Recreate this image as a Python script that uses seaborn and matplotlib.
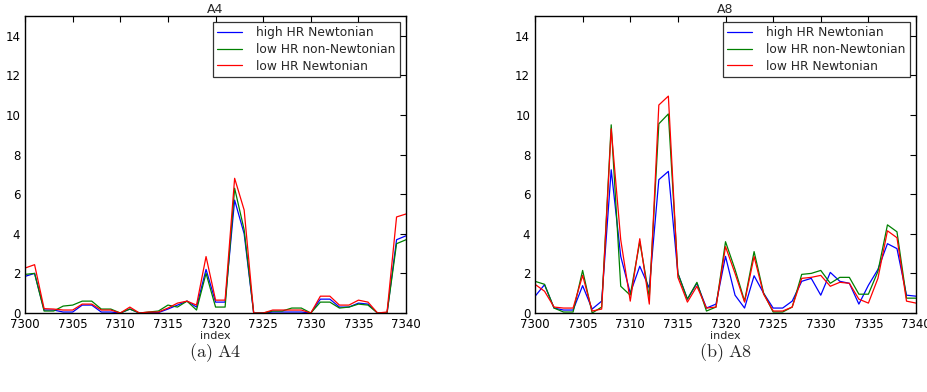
import numpy as np
import pandas as pd
import matplotlib
matplotlib.use("Agg")
import matplotlib.pyplot as plt
import seaborn as sns

index = list(range(7300, 7341))

series_names = ["high HR Newtonian", "low HR non-Newtonian", "low HR Newtonian"]
series_colors = ["#0000ff", "#008000", "#ff0000"]

a4_high_newt = [1.85, 2.0, 0.15, 0.15, 0.05, 0.05, 0.4, 0.4, 0.05, 0.05,
                0.0, 0.2, 0.0, 0.02, 0.02, 0.2, 0.4, 0.6, 0.3, 2.2,
                0.55, 0.55, 5.7, 4.0, 0.0, 0.0, 0.05, 0.05, 0.05, 0.05,
                0.0, 0.7, 0.7, 0.3, 0.3, 0.5, 0.45, 0.0, 0.0, 3.7, 3.9]
a4_low_nonnewt = [1.95, 2.0, 0.1, 0.1, 0.35, 0.4, 0.6, 0.6, 0.2, 0.2,
                  0.0, 0.2, 0.0, 0.05, 0.1, 0.4, 0.3, 0.6, 0.15, 2.0,
                  0.3, 0.3, 6.3, 4.2, 0.0, 0.0, 0.1, 0.1, 0.25, 0.25,
                  0.0, 0.55, 0.55, 0.25, 0.3, 0.45, 0.4, 0.0, 0.0, 3.5, 3.7]
a4_low_newt = [2.27, 2.44, 0.22, 0.2, 0.15, 0.15, 0.45, 0.45, 0.15, 0.15,
               0.0, 0.3, 0.0, 0.05, 0.05, 0.25, 0.5, 0.6, 0.4, 2.85,
               0.65, 0.65, 6.8, 5.2, 0.0, 0.0, 0.15, 0.15, 0.15, 0.15,
               0.0, 0.85, 0.85, 0.4, 0.4, 0.65, 0.55, 0.0, 0.05, 4.85, 5.0]

a8_high_newt = [0.84, 1.43, 0.25, 0.15, 0.15, 1.38, 0.2, 0.6, 7.23, 2.86,
                1.0, 2.36, 1.26, 6.73, 7.15, 2.0, 0.7, 1.5, 0.25, 0.45,
                2.86, 0.9, 0.25, 1.88, 1.0, 0.25, 0.25, 0.6, 1.6, 1.75,
                0.9, 2.05, 1.6, 1.5, 0.45, 1.4, 2.2, 3.5, 3.25, 0.9, 0.85]
a8_low_nonnewt = [1.6, 1.45, 0.25, 0.05, 0.05, 2.15, 0.0, 0.3, 9.5, 1.35,
                  0.9, 3.6, 0.8, 9.55, 10.05, 2.0, 0.7, 1.55, 0.1, 0.3,
                  3.6, 2.2, 0.6, 3.1, 1.0, 0.05, 0.05, 0.3, 1.95, 2.0,
                  2.15, 1.5, 1.8, 1.8, 0.95, 0.95, 2.1, 4.45, 4.1, 0.75, 0.75]
a8_low_newt = [1.45, 1.1, 0.3, 0.25, 0.25, 1.9, 0.1, 0.2, 9.3, 3.7,
               0.6, 3.75, 0.45, 10.5, 10.95, 1.8, 0.55, 1.35, 0.25, 0.3,
               3.35, 2.0, 0.55, 2.85, 0.95, 0.1, 0.1, 0.3, 1.75, 1.8,
               1.9, 1.35, 1.55, 1.5, 0.7, 0.5, 1.75, 4.15, 3.8, 0.6, 0.5]

panels = [
    ("A4", "(a) A4", [a4_high_newt, a4_low_nonnewt, a4_low_newt]),
    ("A8", "(b) A8", [a8_high_newt, a8_low_nonnewt, a8_low_newt]),
]

sns.set_style("white")
plt.rcParams.update({
    "font.family": ["DejaVu Sans"],
    "xtick.direction": "in",
    "ytick.direction": "in",
    "xtick.top": True,
    "ytick.right": True,
    "xtick.major.size": 4,
    "ytick.major.size": 4,
    "axes.edgecolor": "black",
    "axes.linewidth": 1.0,
    "mathtext.fontset": "cm",
})

fig = plt.figure(figsize=(9.28, 3.92), dpi=100)
lefts = [0.027, 0.5765]

for (title, caption, values), left in zip(panels, lefts):
    ax = fig.add_axes([left, 0.2015, 0.4106, 0.758])
    df = pd.DataFrame({
        "index": np.tile(index, len(series_names)),
        "value": np.concatenate(values),
        "series": np.repeat(series_names, len(index)),
    })
    sns.lineplot(data=df, x="index", y="value", hue="series",
                 hue_order=series_names, palette=series_colors,
                 linewidth=0.9, ax=ax)
    ax.set_xlim(7300, 7340)
    ax.set_ylim(0, 15)
    ax.set_xticks(range(7300, 7341, 5))
    ax.set_yticks(range(0, 15, 2))
    ax.tick_params(labelsize=8.5, colors="black", length=4, width=0.8)
    ax.set_xlabel("index", fontsize=8, labelpad=0)
    ax.set_ylabel("")
    ax.set_title(title, fontsize=9, pad=2)
    for s in ax.spines.values():
        s.set_color("black")
    leg = ax.legend(loc="upper right", fontsize=8.8, frameon=True,
                    fancybox=False, handlelength=2.0, handletextpad=1.2,
                    borderpad=0.35, labelspacing=0.3, borderaxespad=0.5)
    leg.get_frame().set_edgecolor("black")
    leg.get_frame().set_linewidth(0.9)
    for h in leg.get_lines():
        h.set_linewidth(0.9)
    # sub-figure caption under each panel
    fig.text(left + 0.4106 / 2, 0.1, r"$\mathrm{" + caption.replace(" ", r"\ ") + "}$",
             ha="center", va="center", fontsize=13)

fig.savefig("out.png", dpi=100)
